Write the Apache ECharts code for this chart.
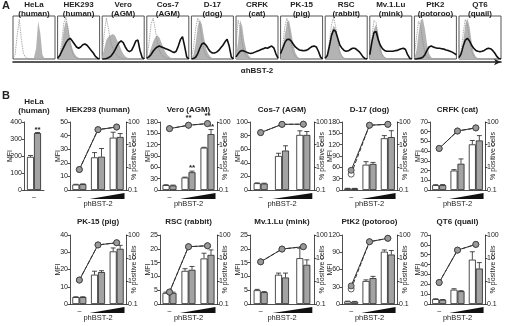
<!DOCTYPE html>
<html>
<head>
<meta charset="UTF-8">
<script src="https://cdn.jsdelivr.net/npm/echarts@6/dist/echarts.min.js"></script>
<style>
  html, body { margin: 0; padding: 0; background: #fff; }
  #main { width: 506px; height: 326px; }
</style>
</head>
<body>
<div id="main"></div>
<script>
// ---------- A: flow cytometry histograms (21 bins, % of box height) ----------
const histNames = ['HeLa\n(human)', 'HEK293\n(human)', 'Vero\n(AGM)', 'Cos-7\n(AGM)', 'D-17\n(dog)', 'CRFK\n(cat)',
  'PK-15\n(pig)', 'RSC\n(rabbit)', 'Mv.1.Lu\n(mink)', 'PtK2\n(potoroo)', 'QT6\n(quail)'];
// isotype control (dotted)
const histDotted = [
  [2,10,55,92,45,12,4,1,0,0,0,0,0,0,0,0,0,0,0,0,0],
  [0,8,40,85,97,70,35,15,6,2,1,0,0,0,0,0,0,0,0,0,0],
  [10,60,95,70,40,25,15,8,4,2,1,0,0,0,0,0,0,0,0,0,0],
  [5,35,80,95,70,40,20,10,5,2,1,0,0,0,0,0,0,0,0,0,0],
  [3,25,70,95,80,45,20,8,3,1,0,0,0,0,0,0,0,0,0,0,0],
  [30,90,70,35,15,6,2,1,0,0,0,0,0,0,0,0,0,0,0,0,0],
  [5,30,75,95,70,35,15,6,2,1,0,0,0,0,0,0,0,0,0,0,0],
  [2,10,40,80,97,75,40,15,5,2,0,0,0,0,0,0,0,0,0,0,0],
  [8,50,90,85,50,20,8,3,1,0,0,0,0,0,0,0,0,0,0,0,0],
  [10,50,88,75,40,15,5,2,0,0,0,0,0,0,0,0,0,0,0,0,0],
  [3,20,60,92,80,45,18,6,2,0,0,0,0,0,0,0,0,0,0,0,0]
];
// parental cells (grey fill)
const histGrey = [
  [0,0,0,0,0,0,0,0,0,1,3,25,88,60,10,1,0,0,0,0,0],
  [0,5,30,70,90,75,45,25,12,6,3,1,0,0,0,0,0,0,0,0,0],
  [5,25,45,52,55,58,55,45,35,22,12,6,3,1,0,0,0,0,0,0,0],
  [2,10,25,40,50,55,50,38,25,15,8,4,2,1,0,0,0,0,0,0,0],
  [2,10,35,75,92,80,50,25,12,5,2,1,0,0,0,0,0,0,0,0,0],
  [5,40,90,75,40,18,8,3,1,0,0,0,0,0,0,0,0,0,0,0,0],
  [3,20,55,85,90,65,35,15,6,2,1,0,0,0,0,0,0,0,0,0,0],
  [1,8,30,60,78,70,45,20,8,3,1,0,0,0,0,0,0,0,0,0,0],
  [5,35,70,80,60,30,12,5,2,1,0,0,0,0,0,0,0,0,0,0,0],
  [3,20,60,90,94,70,35,12,4,1,0,0,0,0,0,0,0,0,0,0,0],
  [2,10,40,80,94,75,40,15,5,2,0,0,0,0,0,0,0,0,0,0,0]
];
// phBST-2 transfected (black line)
const histBlack = [
  null,
  [2,8,18,28,38,45,48,42,35,28,25,28,33,35,32,26,20,14,6,2,0],
  [0,0,1,3,6,12,20,30,38,42,38,28,20,17,20,30,42,44,20,4,0],
  [2,5,10,18,24,28,30,28,26,24,22,20,17,15,18,30,45,52,30,5,0],
  [0,1,4,12,25,35,37,32,24,17,14,14,16,20,26,32,40,46,30,5,0],
  [5,12,18,20,18,16,14,13,14,16,18,20,22,24,26,25,28,30,26,12,2],
  [12,25,38,45,46,42,35,28,24,21,20,19,20,22,26,29,30,28,18,5,0],
  [2,8,30,55,68,64,48,32,25,20,18,19,22,25,25,22,18,12,5,1,0],
  [10,40,62,64,45,32,24,20,18,18,18,18,19,20,22,24,25,22,10,2,0],
  [0,0,1,2,4,10,20,28,30,28,26,25,25,24,23,21,20,18,16,13,10],
  [3,12,30,44,48,42,32,25,20,18,17,18,20,23,25,24,20,14,6,1,0]
];

// ---------- B: MFI bars + % positive cells ----------
const helaMfi = [195, 335];
const helaErr = [203, 338];
const helaSig = [0, 1];

const cellsB = ['HEK293 (human)', 'Vero (AGM)', 'Cos-7 (AGM)', 'D-17 (dog)', 'CRFK (cat)',
  'PK-15 (pig)', 'RSC (rabbit)', 'Mv.1.Lu (mink)', 'PtK2 (potoroo)', 'QT6 (quail)'];
const doseCats = ['\u2013', '', ''];
const mfiMax = [50, 180, 100, 180, 70, 40, 25, 25, 120, 70];
const mfiStep = [10, 30, 20, 30, 10, 10, 5, 5, 30, 10];
const mfiOpen = [[4,24,38.5],[13,33,112],[10,50,81],[4,67,137],[5,20,47],[4,17,30.5],[4,12,16.5],[5,10.6,16.6],[4.5,40,91],[5,14.5,45]];
const mfiOpenErr = [[4.2,27.5,42.5],[14,34,113],[10.5,54,87],[4.5,75,144],[5.5,21,51],[4.2,19,32.5],[4.3,12.8,18.4],[5.3,11.2,20.2],[5,42,94],[5.3,15.5,53]];
const mfiGrey = [[4.3,24.5,39],[12,47,148],[9.5,58,81],[4,69,140],[5,27,51],[4,18.5,32],[4,12.4,17.8],[4.3,9.6,14.2],[4,45,86],[4.3,13,36]];
const mfiGreyErr = [[4.5,30.5,41.5],[13,50,160],[10,65,86],[4.3,73,157],[5.6,32,56],[4.2,19.3,34],[4.3,13.6,19.6],[4.5,11.2,16],[4.5,48,93],[4.5,13.5,42]];
const sigGrey = [[0,0,0],[0,1,1],[0,0,0],[0,0,0],[0,0,0],[0,0,0],[0,0,0],[0,0,0],[0,0,0],[0,0,0]];
const posGrey = [[0.8,46,60],[51,72,85],[34,79,80],[0.74,72,79],[6.8,40,55],[1.1,37,46],[0.33,31,34],[6.8,24.5,31],[0.61,51,72],[0.86,22,39]];
const posOpen = [[0.8,46,60],[51,72,85],[34,79,80],[0.5,72,79],[6.8,40,55],[1.1,37,46],[0.33,31,34],[6.8,24.5,31],[0.45,51,72],[0.86,22,39]];
const sigPos = [[0,0,0],[0,1,1],[0,0,0],[0,0,0],[0,0,0],[0,0,0],[0,0,0],[0,0,0],[0,0,0],[0,0,0]];

// ---------- layout ----------
const FONT = '"Liberation Sans", Arial, Helvetica, sans-serif';
const INK = '#222';
const colL = [70, 160, 250, 342, 430];
const colW = [56, 57, 64, 55, 55];
const rowTop = [122, 235];
const rowH = [68, 69];
const BW = 7;

const grids = [], xAxes = [], yAxes = [], series = [], titles = [];

function addTitle(text, x, top, size, align) {
  titles.push({ text, left: x, top, padding: 0, textAlign: align || 'center',
    textStyle: { fontFamily: FONT, fontSize: size, fontWeight: 'bold', color: INK, lineHeight: size + 0.5 } });
}

addTitle('A', 2, 0, 11, 'left');
addTitle('B', 2, 90, 11, 'left');

// panel A
const bins = histDotted[0].map((_, i) => i);
histNames.forEach((name, i) => {
  const left = 13 + i * 44.6;
  const g = grids.length;
  grids.push({ left, top: 16, width: 42, height: 43, show: true, borderColor: '#555', borderWidth: 1,
    backgroundColor: '#fff', outerBoundsMode: 'none' });
  xAxes.push({ gridIndex: g, type: 'category', boundaryGap: false, data: bins, show: false });
  yAxes.push({ gridIndex: g, type: 'value', min: 0, max: 100, show: false });
  const xi = xAxes.length - 1, yi = yAxes.length - 1;
  series.push({ type: 'line', xAxisIndex: xi, yAxisIndex: yi, data: histGrey[i], symbol: 'none', silent: true,
    lineStyle: { width: 0 }, areaStyle: { color: '#b3b3b3', opacity: 1 } });
  series.push({ type: 'line', xAxisIndex: xi, yAxisIndex: yi, data: histDotted[i], symbol: 'none', silent: true,
    lineStyle: { color: '#8c8c8c', width: 0.9, type: 'dotted' } });
  if (histBlack[i]) {
    series.push({ type: 'line', xAxisIndex: xi, yAxisIndex: yi, data: histBlack[i], symbol: 'none', silent: true,
      lineStyle: { color: '#111', width: 1.6 } });
  }
  addTitle(name, left + 21, 1, 8);
});

// arrow under the histograms
{
  const g = grids.length;
  grids.push({ left: 13, top: 61, width: 488, height: 1, outerBoundsMode: 'none' });
  xAxes.push({ gridIndex: g, type: 'value', min: 0, max: 1,
    axisLine: { show: true, lineStyle: { color: INK, width: 1.6 }, symbol: ['none', 'arrow'], symbolSize: [5, 7] },
    axisTick: { show: false }, axisLabel: { show: false }, splitLine: { show: false },
    name: '\u03b1hBST-2', nameLocation: 'middle', nameGap: 5, nameMoveOverlap: false,
    nameTextStyle: { fontFamily: FONT, fontSize: 8, fontWeight: 'bold', color: INK } });
  yAxes.push({ gridIndex: g, type: 'value', show: false });
}

// error bar renderer (offset = pixel shift to the bar centre)
function errRender(offset) {
  return function (params, api) {
    const x = api.value(0), v = api.value(1), e = api.value(2), sig = api.value(3);
    const p0 = api.coord([x, v]), p1 = api.coord([x, e]);
    const cx = p0[0] + offset;
    const kids = [
      { type: 'line', shape: { x1: cx, y1: p0[1], x2: cx, y2: p1[1] }, style: { stroke: INK, lineWidth: 0.8 } },
      { type: 'line', shape: { x1: cx - 2.5, y1: p1[1], x2: cx + 2.5, y2: p1[1] }, style: { stroke: INK, lineWidth: 0.8 } }
    ];
    if (sig) kids.push({ type: 'text', x: cx, y: p1[1] + 1,
      style: { text: '**', fill: INK, font: 'bold 8px ' + FONT, align: 'center', verticalAlign: 'bottom' } });
    return { type: 'group', children: kids };
  };
}

function axisY(g, extra) {
  return Object.assign({ gridIndex: g, type: 'value', splitLine: { show: false },
    axisLine: { show: true, lineStyle: { color: INK, width: 0.8 } },
    axisTick: { show: true, length: 2.5, lineStyle: { color: INK, width: 0.8 } },
    axisLabel: { fontFamily: FONT, fontSize: 7, color: INK, margin: 2 },
    nameLocation: 'middle', nameRotate: 90, nameMoveOverlap: false,
    nameTextStyle: { fontFamily: FONT, fontSize: 7, color: INK } }, extra);
}

function addBars(g, xi, yi, open, openErr, grey, greyErr, sig) {
  const cats = open.map((_, k) => k);
  series.push({ type: 'bar', xAxisIndex: xi, yAxisIndex: yi, data: open, barWidth: BW, barGap: '0%',
    itemStyle: { color: '#fff', borderColor: INK, borderWidth: 0.8 }, silent: true });
  series.push({ type: 'bar', xAxisIndex: xi, yAxisIndex: yi, data: grey, barWidth: BW, barGap: '0%',
    itemStyle: { color: '#a3a3a3', borderColor: INK, borderWidth: 0.8 }, silent: true });
  series.push({ type: 'custom', xAxisIndex: xi, yAxisIndex: yi, clip: false, silent: true, z: 3,
    data: cats.map(k => [k, open[k], openErr[k], 0]), renderItem: errRender(-BW / 2) });
  series.push({ type: 'custom', xAxisIndex: xi, yAxisIndex: yi, clip: false, silent: true, z: 3,
    data: cats.map(k => [k, grey[k], greyErr[k], sig[k]]), renderItem: errRender(BW / 2) });
}

// HeLa panel
{
  const g = grids.length;
  grids.push({ left: 24, top: rowTop[0], width: 20, height: rowH[0], outerBoundsMode: 'none' });
  xAxes.push({ gridIndex: g, type: 'category', data: ['\u2013'],
    axisLine: { lineStyle: { color: INK, width: 0.8 } }, axisTick: { show: false },
    axisLabel: { fontFamily: FONT, fontSize: 7, color: INK, margin: 4 } });
  yAxes.push(axisY(g, { min: 0, max: 400, interval: 100, name: 'MFI', nameGap: 10 }));
  addBars(g, xAxes.length - 1, yAxes.length - 1, [helaMfi[0]], [helaErr[0]], [helaMfi[1]], [helaErr[1]], [helaSig[1]]);
  addTitle('HeLa\n(human)', 34, 98, 8);
}

// phBST-2 panels
cellsB.forEach((name, i) => {
  const row = i < 5 ? 0 : 1, col = i % 5;
  const L = colL[col], W = colW[col], top = rowTop[row], H = rowH[row];
  const g = grids.length;
  grids.push({ left: L, top, width: W, height: H, outerBoundsMode: 'none' });
  xAxes.push({ gridIndex: g, type: 'category', data: doseCats,
    axisLine: { lineStyle: { color: INK, width: 0.8 } }, axisTick: { show: false },
    axisLabel: { fontFamily: FONT, fontSize: 7, color: INK, margin: 4, interval: 0 },
    name: 'phBST-2', nameLocation: 'middle', nameGap: 10, nameMoveOverlap: false,
    nameTextStyle: { fontFamily: FONT, fontSize: 7.5, color: INK } });
  const xi = xAxes.length - 1;
  yAxes.push(axisY(g, { min: 0, max: mfiMax[i], interval: mfiStep[i], name: 'MFI', nameGap: 8 }));
  const yi = yAxes.length - 1;
  yAxes.push(axisY(g, { type: 'log', logBase: 10, min: 0.1, max: 100, position: 'right',
    name: '% positive cells', nameGap: 5,
    axisLabel: { fontFamily: FONT, fontSize: 7, color: INK, margin: 2, formatter: v => String(+(+v).toPrecision(3)) } }));
  const yl = yAxes.length - 1;

  addBars(g, xi, yi, mfiOpen[i], mfiOpenErr[i], mfiGrey[i], mfiGreyErr[i], sigGrey[i]);

  // dose wedge under the 2nd and 3rd groups
  series.push({ type: 'custom', xAxisIndex: xi, yAxisIndex: yi, clip: false, silent: true, data: [[0, 0]],
    renderItem: function (params, api) {
      const a = api.coord([1, 0]), b = api.coord([2, 0]);
      const band = api.size([1, 0])[0];
      const xL = a[0] - band * 0.45, xR = b[0] + band * 0.42, y = a[1];
      return { type: 'polygon', shape: { points: [[xL, y + 9], [xR, y + 3], [xR, y + 9]] }, style: { fill: '#111' } };
    } });

  const pos = (data, filled, sig) => ({
    type: 'line', xAxisIndex: xi, yAxisIndex: yl, data, symbol: 'circle', symbolSize: 6, silent: true,
    z: filled ? 5 : 4,
    itemStyle: { color: filled ? '#9a9a9a' : '#fff', borderColor: '#333', borderWidth: 0.8 },
    lineStyle: { color: '#333', width: 1, type: filled ? 'solid' : 'dashed' },
    label: sig ? { show: true, position: 'top', distance: 0, fontFamily: FONT, fontSize: 8, fontWeight: 'bold',
      color: INK, formatter: p => (sig[p.dataIndex] ? '**' : '') } : { show: false }
  });
  series.push(pos(posOpen[i], false, null));
  series.push(pos(posGrey[i], true, sigPos[i]));

  addTitle(name, L + W / 2, row === 0 ? 106 : 218, 8);
});

const chart = echarts.init(document.getElementById('main'), null, { renderer: 'canvas' });
chart.setOption({
  animation: false,
  backgroundColor: '#fff',
  textStyle: { fontFamily: FONT },
  title: titles,
  grid: grids,
  xAxis: xAxes,
  yAxis: yAxes,
  series
});
</script>
</body>
</html>
